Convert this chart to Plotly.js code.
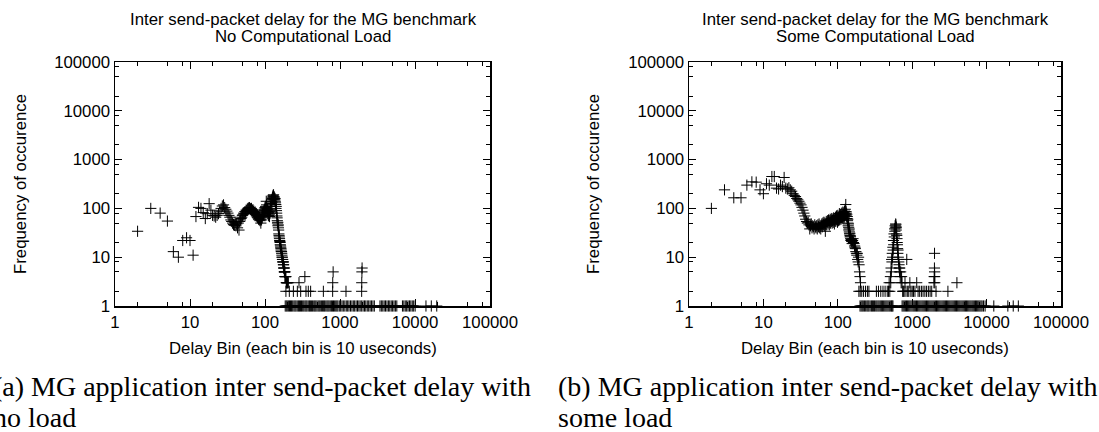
<!DOCTYPE html>
<html><head><meta charset="utf-8">
<script src="https://cdn.plot.ly/plotly-3.0.1.min.js"></script>
<style>html,body{margin:0;padding:0;background:#fff}#chart{width:1099px;height:432px}</style>
</head><body><div id="chart"></div>
<script>
// ---- tick labels ----
const tickVals = [1, 10, 100, 1000, 10000, 100000];
const tickText = ['1', '10', '100', '1000', '10000', '100000'];
const minorSteps = [2, 5, 8];

// ---- titles / captions ----
const titleLine1 = 'Inter send-packet delay for the MG benchmark';
const titleA2 = 'No Computational Load';
const titleB2 = 'Some Computational Load';
const xTitle = 'Delay Bin (each bin is 10 useconds)';
const yTitle = 'Frequency of occurence';
const captionA = ['(a) MG application inter send-packet delay with', 'no load'];
const captionB = ['(b) MG application inter send-packet delay with', 'some load'];

// ---- (a) no load: main curve ----
const noLoadBins = [2,3,4,5,6,7,8,9,10,11,12,13,14,15,16,17,18,19,20,21,22,23,24,25,26,27,28,29,30,31,32,33,34,35,36,37,38,39,40,41,42,43,44,45,46,47,48,49,50,51,52,53,54,55,56,57,58,59,60,61,62,63,64,65,66,67,68,69,70,71,72,73,74,75,76,77,78,79,80,81,82,83,84,85,86,87,88,89,90,91,92,93,94,95,96,97,98,99,100,101,102,103,104,105,106,107,108,109,110,111,112,113,114,115,116,117,118,119,120,121,122,123,124,125,126,127,128,129,130,131,132,133,134,135,136,137,138,139,140,141,142,143,144,145,146,147,148,149,150,151,152,153,154,155,156,157,158,159,160,161,162,163,164,165,166,167,168,169,170,171,172,173,174,175,176,177,178,179,180,181,182,183,184,185,186,187,188,190,192,194,196,198,200];
const noLoadCounts = [34,100,80,55,13,10,22,25,22,11,68,105,100,82,62,78,125,92,72,70,66,72,78,88,100,112,118,104,96,88,80,72,66,58,54,50,47,45,52,44,48,40,50,36,54,58,62,66,72,74,80,78,86,84,92,90,96,98,102,96,104,100,98,95,100,92,90,94,86,88,82,80,84,76,74,70,72,66,64,68,60,62,58,64,56,60,50,66,58,70,64,76,72,84,80,90,96,88,104,98,110,92,140,118,100,86,96,78,88,72,82,70,76,68,86,80,96,110,126,118,140,150,134,160,170,155,185,176,190,165,150,172,160,150,160,140,130,120,100,110,90,80,70,64,56,50,52,44,46,40,36,30,28,26,24,22,21,20,18,17,16,15,14,13,13,12,11,10,10,9,9,8,8,8,7,7,6,6,6,5,5,5,5,4,4,4,4,4,3,3,3,3,3];
// ---- (a) sparse tail (counts above 1) ----
const noLoadTailBins = [190,211,239,270,299,352,378,406,600,798,1202,1945,205,284,800,1950,340,810,1960,1970];
const noLoadTailCounts = [2,2,2,2,2,2,2,2,2,2,2,2,3,3,3,3,4,5,5,6];
// ---- (a) bins seen once ----
const noLoadOnceBins = [186,192,198,205,212,219,226,234,243,251,259,269,279,288,297,307,318,329,341,352,363,377,391,403,416,431,447,461,476,493,511,528,545,565,586,605,624,647,670,692,715,741,768,793,819,848,878,907,937,979,1021,1064,1108,1160,1213,1265,1318,1380,1442,1505,1568,1640,1712,1785,1858,1945,2031,2120,2208,2310,2412,2520,2627,2750,2871,3412,3560,3718,3880,4047,4230,4422,4610,4818,5030,5251,5480,5722,6803,7100,7412,7740,8080,8440,8800,9200,9600,10050,14000,16500,19500];

// ---- (b) some load: main curve ----
const someLoadBins = [2,3,4,5,6,7,8,9,10,11,12,13,14,15,16,17,18,19,20,21,22,23,24,25,26,27,28,29,30,31,32,33,34,35,36,37,38,39,40,41,42,43,44,45,46,47,48,49,50,51,52,53,54,55,56,57,58,59,60,61,62,63,64,65,66,67,68,69,70,71,72,73,74,75,76,77,78,79,80,81,82,83,84,85,86,87,88,89,90,91,92,93,94,95,96,97,98,99,100,101,102,103,104,105,106,107,108,109,110,111,112,113,114,115,116,117,118,119,120,121,122,123,124,125,126,127,128,129,130,131,132,133,134,135,136,137,138,139,140,141,142,143,144,145,146,147,148,149,150,152,154,156,158,160,162,165,168,170,172,175,178,180,183,185,188,190,193,196,199,202];
const someLoadCounts = [100,240,165,165,300,350,345,240,200,320,300,450,450,260,250,300,280,430,260,250,265,240,225,200,185,175,160,150,140,128,118,105,92,80,70,60,54,50,52,46,38,44,48,40,44,42,38,46,42,40,44,38,46,42,48,40,44,38,45,48,42,50,46,52,44,50,34,48,54,46,52,56,48,58,52,46,56,60,50,58,54,62,50,56,60,52,64,58,48,62,56,66,54,60,70,58,64,52,72,60,56,66,62,78,58,68,64,74,60,70,66,80,62,72,68,84,64,76,70,82,66,88,72,78,96,74,120,86,80,70,76,62,68,56,60,50,44,48,41,36,38,33,30,31,28,26,27,24,22,23,21,19,22,24,20,19,17,16,15,13,12,11,12,9,8,10,7,5,4,3,3];
// ---- (b) second and third peaks, sparse tail ----
const someLoadTailBins = [192,200,210,222,236,250,262,330,352,378,405,432,462,480,490,500,510,515,520,525,530,535,540,545,550,555,560,565,570,575,580,585,590,595,600,603,606,610,613,616,620,624,628,632,636,640,645,650,655,660,665,670,675,680,690,700,710,720,730,745,760,780,800,825,845,870,900,930,960,1000,1040,1090,1150,1200,1260,1330,1400,1480,1560,1650,1740,1830,1960,1975,1990,1995,2000,2005,2012,2090,3020,3990];
const someLoadTailCounts = [2,2,2,2,2,2,2,2,2,2,2,2,2,2,3,2,4,3,6,5,9,8,12,10,16,14,22,18,30,26,38,34,44,40,48,46,42,36,40,30,28,24,20,18,15,12,14,10,9,8,7,6,5,6,4,5,3,4,3,2,2,2,3,2,9,2,2,3,2,2,2,2,3,2,2,2,2,2,2,2,2,2,3,4,6,12,5,4,3,2,2,3,2];
const someLoadOnceBins = [199,206,213,220,228,237,246,254,262,272,283,292,301,312,324,335,347,359,372,385,398,413,428,443,458,474,491,508,526,538,551,731,756,782,810,838,867,897,929,962,996,1031,1066,1103,1142,1182,1225,1268,1312,1358,1404,1452,1503,1556,1611,1668,1727,1787,1849,1913,1980,2051,2122,2196,2273,2352,2435,2521,2609,2700,2796,2894,2995,3098,3207,3321,3437,3557,3682,3810,3944,4082,4226,4373,4527,4685,4849,5019,5196,5377,5566,5762,5965,6172,6390,6612,6845,7085,7333,7589,7855,8131,8420,8711,9100,9550,12500,19300,22800,26700];

// ---------------- drawing ----------------
const ones = a => a.map(() => 1);
const mk = {symbol: 'cross-thin-open', size: 8, color: '#000', line: {width: 1, color: '#000'}};

function pts(x, y, xa, ya) {
  return {type: 'scatter', mode: 'markers', x: x, y: y, xaxis: xa, yaxis: ya,
          marker: mk, cliponaxis: false, hoverinfo: 'x+y', showlegend: false};
}

const data = [
  pts(noLoadBins, noLoadCounts, 'x', 'y'),
  pts(noLoadTailBins, noLoadTailCounts, 'x', 'y'),
  pts(noLoadOnceBins, ones(noLoadOnceBins), 'x', 'y'),
  pts(someLoadBins, someLoadCounts, 'x2', 'y2'),
  pts(someLoadTailBins, someLoadTailCounts, 'x2', 'y2'),
  pts(someLoadOnceBins, ones(someLoadOnceBins), 'x2', 'y2')
];

const minorVals = [];
tickVals.slice(0, -1).forEach(d => minorSteps.forEach(s => minorVals.push(d * s)));

const W = 1099, H = 432;
const font = {family: 'Liberation Sans, Arial, sans-serif', size: 16.8, color: '#000'};

function xAxis(l, r, ya) {
  return {type: 'log', range: [0, 5], domain: [l / W, r / W], anchor: ya,
    tickmode: 'array', tickvals: tickVals, ticktext: tickText,
    ticks: 'inside', ticklen: 7, tickwidth: 1, tickcolor: '#000',
    minor: {tickmode: 'array', tickvals: minorVals, ticks: 'inside', ticklen: 4, tickwidth: 1, tickcolor: '#000', showgrid: false},
    showline: true, linecolor: '#000', linewidth: 1.5, mirror: 'ticks',
    showgrid: false, zeroline: false, tickfont: font, title: {text: ''}};
}
function yAxis(xa) {
  return {type: 'log', range: [0, 5], domain: [1 - 306 / H, 1 - 62 / H], anchor: xa,
    tickmode: 'array', tickvals: tickVals, ticktext: tickText,
    ticks: 'inside', ticklen: 7, tickwidth: 1, tickcolor: '#000',
    minor: {tickmode: 'array', tickvals: minorVals, ticks: 'inside', ticklen: 4, tickwidth: 1, tickcolor: '#000', showgrid: false},
    showline: true, linecolor: '#000', linewidth: 1.5, mirror: 'ticks',
    showgrid: false, zeroline: false, tickfont: font, title: {text: ''}};
}

const capFont = {family: 'Liberation Serif, Times New Roman, serif', size: 28, color: '#000'};
function note(text, px, py, opts) {
  return Object.assign({text: text, xref: 'paper', yref: 'paper', x: px / W, y: 1 - py / H,
    xanchor: 'center', yanchor: 'middle', showarrow: false, font: font}, opts || {});
}

const layout = {
  width: W, height: H, margin: {l: 0, r: 0, t: 0, b: 0},
  paper_bgcolor: '#fff', plot_bgcolor: '#fff', showlegend: false,
  xaxis: xAxis(115, 490, 'y'), yaxis: yAxis('x'),
  xaxis2: xAxis(689, 1061, 'y2'), yaxis2: yAxis('x2'),
  annotations: [
    note(titleLine1, 303, 19), note(titleA2, 303, 36),
    note(titleLine1, 875, 19), note(titleB2, 875, 36),
    note(xTitle, 302.5, 348), note(xTitle, 875, 348),
    note(yTitle, 20, 184, {textangle: -90}), note(yTitle, 593, 184, {textangle: -90}),
    note(captionA[0], -9, 386, {xanchor: 'left', font: capFont}),
    note(captionA[1], -9, 417, {xanchor: 'left', font: capFont}),
    note(captionB[0], 556, 386, {xanchor: 'left', font: capFont}),
    note(captionB[1], 556, 417, {xanchor: 'left', font: capFont})
  ]
};

Plotly.newPlot('chart', data, layout, {staticPlot: true, displayModeBar: false});
</script>
</body></html>
